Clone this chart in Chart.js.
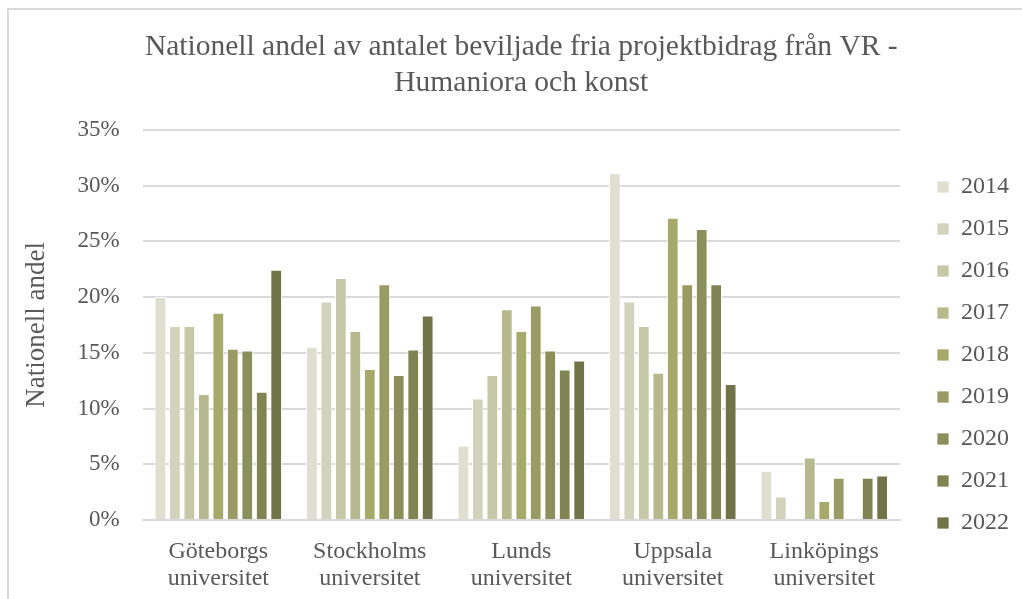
<!doctype html>
<html lang="sv">
  <head>
    <meta charset="UTF-8" />
    <title>Nationell andel - Humaniora och konst</title>
    <script src="https://cdn.jsdelivr.net/npm/chart.js"></script>
    <style>
      html, body { margin: 0; padding: 0; background: #fff; }
      #frame {
        position: absolute; left: 7px; top: 8px; width: 1100px; height: 700px;
        border-left: 2px solid #d9d9d9; border-top: 2px solid #d9d9d9;
      }
      #wrap { position: absolute; left: 0; top: 0; width: 1022px; height: 599px; }
    </style>
  </head>
  <body>
    <div id="frame"></div>
    <div id="wrap"><canvas id="chart"></canvas></div>
    <script>
      const universities = [
        ["Göteborgs", "universitet"],
        ["Stockholms", "universitet"],
        ["Lunds", "universitet"],
        ["Uppsala", "universitet"],
        ["Linköpings", "universitet"],
      ];
      const years = ["2014", "2015", "2016", "2017", "2018", "2019", "2020", "2021", "2022"];
      // share per year, in order of universities (percent)
      const share2014 = [20.0, 15.55, 6.65, 31.1, 4.4];
      const share2015 = [17.4, 19.6, 10.9, 19.6, 2.1];
      const share2016 = [17.4, 21.7, 13.0, 17.4, 0];
      const share2017 = [11.3, 16.95, 18.9, 13.2, 5.6];
      const share2018 = [18.6, 13.55, 16.95, 27.1, 1.7];
      const share2019 = [15.35, 21.15, 19.25, 21.15, 3.8];
      const share2020 = [15.2, 13.0, 15.2, 26.1, 0];
      const share2021 = [11.5, 15.3, 13.5, 21.15, 3.8];
      const share2022 = [22.45, 18.35, 14.3, 12.2, 4.0];
      const yearColors = ["#dedfd0", "#d1d3bd", "#c5c8a7", "#b5b98d", "#a5a96a", "#989c64", "#8b8f5b", "#808452", "#717448"];

      const allShares = [share2014, share2015, share2016, share2017, share2018, share2019, share2020, share2021, share2022];
      const serif = "'Liberation Serif', 'Times New Roman', serif";
      const grey = "#595959";

      // move the legend items away from the plot without moving the plot
      const legendShift = {
        id: "legendShift",
        afterLayout(chart) {
          const lg = chart.legend;
          lg.left += 19;
          lg.right += 19;
          lg.top += 43;
          lg.bottom += 43;
        },
      };

      const ctx = document.getElementById("chart").getContext("2d");
      new Chart(ctx, {
        type: "bar",
        data: {
          labels: universities,
          datasets: years.map((y, i) => ({
            label: y,
            data: allShares[i].map((v) => v / 100),
            backgroundColor: yearColors[i],
            borderColor: "#ffffff",
            borderWidth: { left: 1, right: 1, top: 1, bottom: 0 },
            categoryPercentage: 0.86,
            barPercentage: 0.81,
          })),
        },
        options: {
          responsive: true,
          maintainAspectRatio: false,
          animation: false,
          layout: { padding: { left: 10, right: 22, top: 14, bottom: -11 } },
          plugins: {
            title: {
              display: true,
              fullSize: false,
              text: ["Nationell andel av antalet beviljade fria projektbidrag från VR -", "Humaniora och konst"],
              color: grey,
              font: { family: serif, size: 29.5, weight: "normal", lineHeight: 1.2 },
              padding: { top: 16, bottom: 29 },
            },
            legend: {
              position: "right",
              labels: {
                color: grey,
                font: { family: serif, size: 24 },
                boxWidth: 12,
                boxHeight: 12,
                padding: 18,
              },
            },
            tooltip: { enabled: false },
          },
          scales: {
            x: {
              grid: { display: false, drawTicks: false },
              border: { color: "#d9d9d9", width: 2 },
              ticks: {
                color: grey,
                font: { family: serif, size: 24, lineHeight: 1.125 },
                padding: 18,
                maxRotation: 0,
                autoSkip: false,
              },
            },
            y: {
              min: 0,
              max: 0.35,
              grid: { color: "#d9d9d9", lineWidth: 2, drawTicks: false },
              border: { display: false },
              ticks: {
                stepSize: 0.05,
                color: grey,
                font: { family: serif, size: 23 },
                padding: 23,
                callback: (v) => Math.round(v * 100) + "%",
              },
              title: {
                display: true,
                text: "Nationell andel",
                color: grey,
                font: { family: serif, size: 27 },
                padding: { top: 11, bottom: 1 },
              },
            },
          },
        },
        plugins: [legendShift],
      });
    </script>
  </body>
</html>
